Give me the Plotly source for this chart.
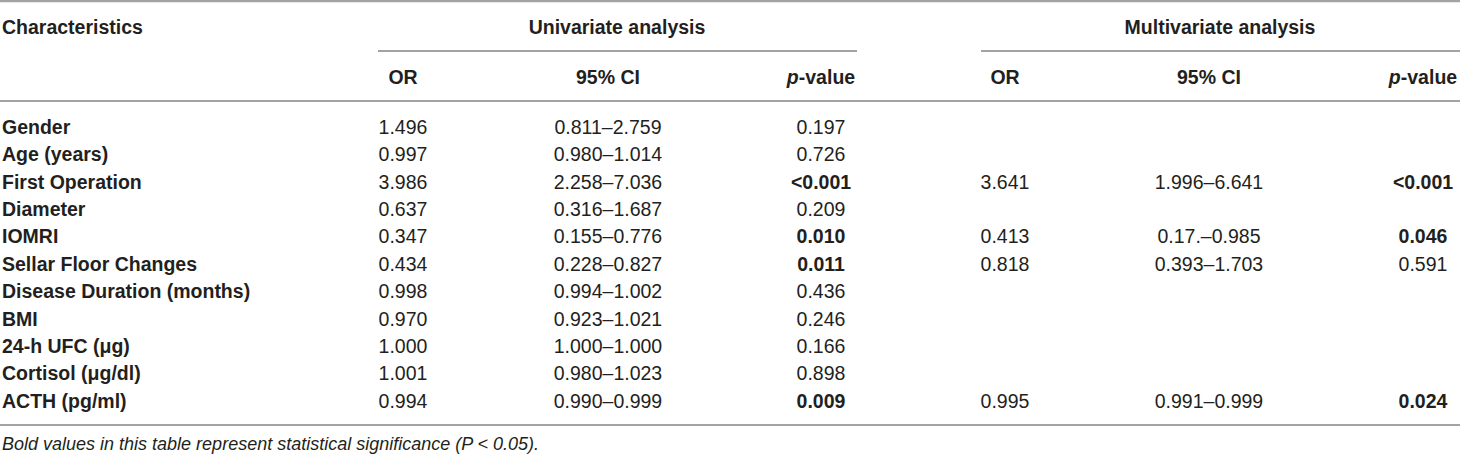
import plotly.graph_objects as go

# table contents
characteristics = ["Gender", "Age (years)", "First Operation", "Diameter", "IOMRI",
                   "Sellar Floor Changes", "Disease Duration (months)", "BMI",
                   "24-h UFC (μg)", "Cortisol (μg/dl)", "ACTH (pg/ml)"]
uni_or = ["1.496", "0.997", "3.986", "0.637", "0.347", "0.434", "0.998", "0.970", "1.000", "1.001", "0.994"]
uni_ci = ["0.811–2.759", "0.980–1.014", "2.258–7.036", "0.316–1.687", "0.155–0.776", "0.228–0.827",
          "0.994–1.002", "0.923–1.021", "1.000–1.000", "0.980–1.023", "0.990–0.999"]
uni_p = ["0.197", "0.726", "<0.001", "0.209", "0.010", "0.011", "0.436", "0.246", "0.166", "0.898", "0.009"]
multi_or = ["", "", "3.641", "", "0.413", "0.818", "", "", "", "", "0.995"]
multi_ci = ["", "", "1.996–6.641", "", "0.17.–0.985", "0.393–1.703", "", "", "", "", "0.991–0.999"]
multi_p = ["", "", "<0.001", "", "0.046", "0.591", "", "", "", "", "0.024"]

group_titles = ["Univariate analysis", "Multivariate analysis"]
col_titles = ["OR", "95% CI", "<i>p</i>-value"]
footnote = "Bold values in this table represent statistical significance (P &lt; 0.05)."

# layout (pixels)
W, H = 1460, 455
FONT = "Liberation Sans"
TXT = "#231f20"
LINE = "#a3a3a3"
FS = 19.5
row_top, row_h = 129, 27.4
col_x = [403, 608, 821, 1005, 1209, 1423]
group_x = [617, 1220]
group_span = [(378, 857), (981, 1460)]
y_group, y_under, y_head, y_headline = 29, 51, 79, 101
y_bottom, y_foot = 425, 445


def fmt_p(p):
    if p == "":
        return ""
    sig = p.startswith("<") or float(p) < 0.05
    p = p.replace("<", "&lt;")
    return f"<b>{p}</b>" if sig else p


rows_y = [row_top + i * row_h for i in range(len(characteristics))]

fig = go.Figure()

def add_text(x, y, text, pos="middle center", size=FS):
    fig.add_trace(go.Scatter(x=x, y=y, text=text, mode="text", textposition=pos,
                             textfont=dict(family=FONT, size=size, color=TXT),
                             hoverinfo="skip", showlegend=False, cliponaxis=False))

# body
add_text([2] * len(rows_y), rows_y, [f"<b>{c}</b>" for c in characteristics], "middle right")
columns = [uni_or, uni_ci, [fmt_p(p) for p in uni_p], multi_or, multi_ci, [fmt_p(p) for p in multi_p]]
for cx, vals in zip(col_x, columns):
    add_text([cx] * len(vals), rows_y, vals)

# headers
add_text([2], [y_group], ["<b>Characteristics</b>"], "middle right")
add_text(group_x, [y_group] * 2, [f"<b>{g}</b>" for g in group_titles])
add_text(col_x, [y_head] * 6, [f"<b>{t}</b>" for t in col_titles * 2])
add_text([2], [y_foot], [f"<i>{footnote}</i>"], "middle right", size=18)

# rules
for y, w in [(1, 2.5), (y_headline, 2.2), (y_bottom, 2.2)]:
    fig.add_shape(type="line", x0=0, x1=W, y0=y, y1=y, line=dict(color=LINE, width=w))
for x0, x1 in group_span:
    fig.add_shape(type="line", x0=x0, x1=x1, y0=y_under, y1=y_under, line=dict(color=LINE, width=1.8))

fig.update_xaxes(range=[0, W], visible=False, fixedrange=True)
fig.update_yaxes(range=[H, 0], visible=False, fixedrange=True)
fig.update_layout(width=W, height=H, margin=dict(l=0, r=0, t=0, b=0),
                  plot_bgcolor="white", paper_bgcolor="white")

fig.write_html("out.html", config={"displayModeBar": False},
               post_script="document.body.style.margin='0px';")
